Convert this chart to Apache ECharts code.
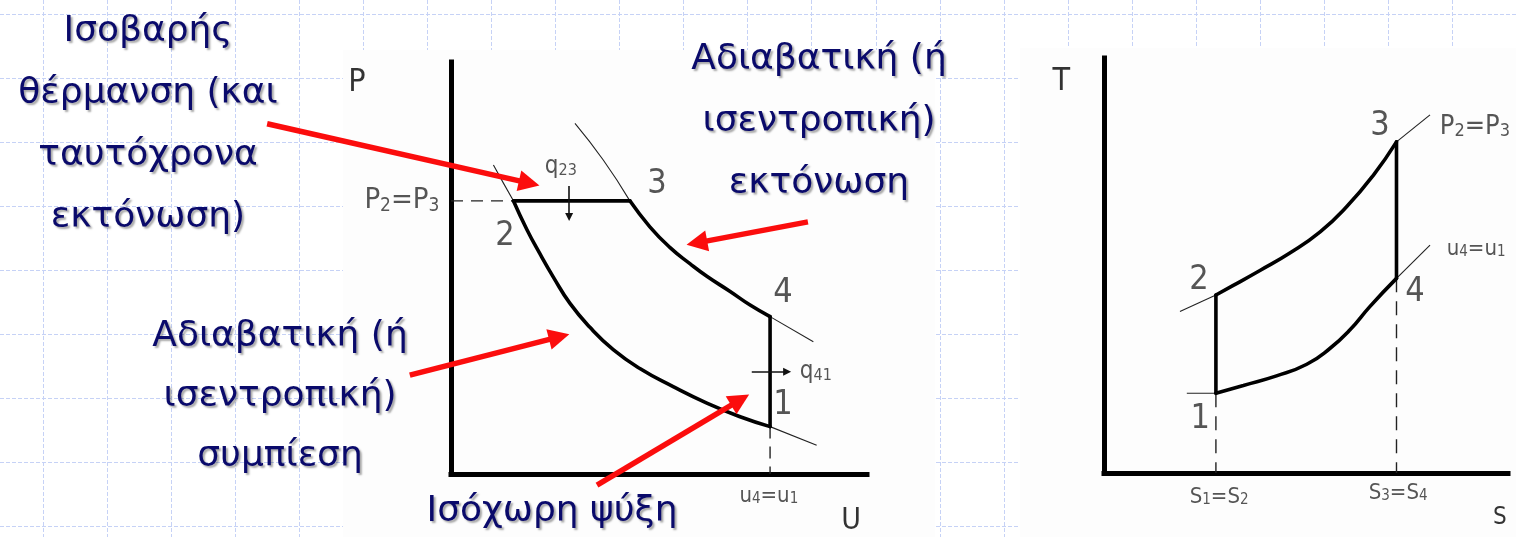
<!DOCTYPE html>
<html>
<head>
<meta charset="utf-8">
<script src="https://cdn.jsdelivr.net/npm/echarts@6/dist/echarts.min.js"></script>
<style>
  html, body { margin: 0; padding: 0; background: #ffffff; }
  #chart { width: 1516px; height: 537px; }
</style>
</head>
<body>
<div id="chart"></div>
<script>
// ---------- P–v diagram (specific volume v, pressure P; axes run 0..10) ----------
// adiabatic compression 2 -> 1
const pvCompression = [[1.50,6.63],[1.82,5.94],[2.14,5.34],[2.46,4.78],[2.86,4.14],[3.34,3.56],
                       [3.90,3.02],[4.54,2.56],[5.34,2.12],[6.15,1.72],[6.95,1.39],[7.67,1.15]];
// adiabatic expansion 3 -> 4
const pvExpansion = [[4.30,6.63],[4.78,6.00],[5.26,5.50],[5.75,5.10],[6.15,4.80],[6.71,4.43],
                     [7.19,4.10],[7.67,3.82]];
// constant pressure 2 -> 3 and constant volume 4 -> 1
const pvIsobar = [[1.50,6.63],[4.30,6.63]];
const pvIsochore = [[7.67,3.82],[7.67,1.15]];
// thin continuations of the two adiabats
const pvAdiabatTails = [
  [[1.02,7.50],[1.26,7.06],[1.50,6.63]],
  [[7.67,1.15],[8.79,0.70]],
  [[2.98,8.51],[3.66,7.62],[4.30,6.63]],
  [[7.67,3.82],[8.71,3.21]]
];
// dashed reference lines P2=P3 and u4=u1
const pvGuides = [
  [[0,6.63],[1.50,6.63]],
  [[7.67,1.15],[7.67,0]]
];
// heat flow arrows q23 (in) and q41 (out)
const pvHeatArrows = [
  [[2.84,6.99],[2.84,6.24]],
  [[7.23,2.48],[8.08,2.48]]
];
// state numbers and axis / level labels: [v, P, text, size]
const pvLabels = [
  [1.30,5.78,'2',34],[4.95,7.04,'3',34],[7.98,4.39,'4',34],[7.98,1.67,'1',34]
];
const pvAxisNames = [[-2.26,9.51,'P',32],[9.62,-1.14,'U',30]];
const pvLevelLabels = [
  [-1.18,6.63,'P{s|2}=P{s|3}',29],
  [7.64,-0.53,'u{s|4}=u{s|1}',22],
  [2.64,7.45,'q{s|23}',24],
  [8.77,2.48,'q{s|41}',24]
];
// red call-out arrows: [tail, head] in P–v units
const calloutArrows = [
  [[-4.42,8.50],[1.88,7.06]],
  [[8.58,6.12],[5.91,5.61]],
  [[-0.99,2.40],[2.60,3.33]],
  [[3.51,-0.27],[6.95,1.80]]
];

// ---------- T–s diagram (entropy s, temperature T; axes run 0..10) ----------
const tsIsobar = [[2.77,4.29],[3.20,4.52],[3.86,4.88],[4.60,5.30],[5.35,5.81],[6.01,6.42],[6.67,7.18],[7.24,7.98]];
const tsIsochore = [[2.77,1.92],[3.45,2.11],[4.27,2.34],[5.02,2.62],[5.59,3.00],[6.09,3.45],[6.58,4.01],[7.24,4.69]];
const tsCompression = [[2.77,1.92],[2.77,4.29]];
const tsExpansion = [[7.24,7.98],[7.24,4.69]];
const tsTails = [
  [[1.88,3.89],[2.77,4.29]],
  [[7.24,7.98],[8.07,8.63]],
  [[2.05,1.92],[2.77,1.92]],
  [[7.24,4.69],[8.07,5.49]]
];
const tsGuides = [
  [[2.77,1.92],[2.77,0]],
  [[7.24,4.69],[7.24,0]]
];
const tsLabels = [
  [2.35,4.65,'2',34],[6.83,8.36,'3',34],[7.70,4.36,'4',34],[2.38,1.30,'1',34]
];
const tsAxisNames = [[-1.06,9.42,'T',32],[9.80,-1.08,'S',24]];
const tsLevelLabels = [
  [9.18,8.34,'P{s|2}=P{s|3}',27],
  [9.21,5.40,'u{s|4}=u{s|1}',22],
  [2.85,-0.58,'S{s|1}=S{s|2}',22],
  [7.28,-0.48,'S{s|3}=S{s|4}',22]
];

// ---------- Greek call-out texts ----------
const notes = [
  { text: 'Ισοβαρής\nθέρμανση (και\nταυτόχρονα\nεκτόνωση)', x: 148, y: 1, lh: 62 },
  { text: 'Αδιαβατική (ή\nισεντροπική)\nεκτόνωση', x: 819, y: 29, lh: 62 },
  { text: 'Αδιαβατική (ή\nισεντροπική)\nσυμπίεση', x: 280, y: 307, lh: 60 },
  { text: 'Ισόχωρη ψύξη', x: 552, y: 481, lh: 62 }
];

const W = 1516, H = 537;
const DIAG_FONT = "'Liberation Sans Narrow', 'DejaVu Sans Condensed', 'Liberation Sans', Arial, sans-serif";

function curve(g, data, width, extra) {
  return Object.assign({
    type: 'line', xAxisIndex: g, yAxisIndex: g, data: data, symbol: 'none',
    smooth: 0.5, silent: true, z: 3,
    lineStyle: { color: '#000', width: width, cap: 'round', join: 'round' }
  }, extra || {});
}
function dashed(g, data, dash) {
  return {
    type: 'line', xAxisIndex: g, yAxisIndex: g, data: data, symbol: 'none', silent: true, z: 2,
    lineStyle: { color: '#222', width: 1.4, type: dash }
  };
}
function labelSeries(g, rows, color) {
  return {
    type: 'scatter', xAxisIndex: g, yAxisIndex: g, symbolSize: 1, clip: false, silent: true, z: 5,
    itemStyle: { color: 'transparent' },
    data: rows.map(r => ({
      value: [r[0], r[1]], name: r[2],
      label: {
        fontSize: r[3],
        rich: { s: { fontSize: Math.round(r[3] * 0.66), fontFamily: DIAG_FONT, color: color, verticalAlign: 'bottom' } }
      }
    })),
    label: { show: true, position: 'inside', formatter: '{b}', color: color, fontFamily: DIAG_FONT }
  };
}
function axisPair(g) {
  return {
    gridIndex: g, type: 'value', min: 0, max: 10,
    axisLine: { show: true, onZero: false, lineStyle: { color: '#000', width: 5, cap: 'square' } },
    axisTick: { show: false }, axisLabel: { show: false }, splitLine: { show: false }
  };
}

// background: light blue dashed squared paper with the two white diagram panels
const background = [];
for (let k = 0; k * 64.04 + 43 <= W + 1; k++) {
  const x = Math.round(43 + k * 64.04) + 0.5;
  background.push({ type: 'line', z: -10, silent: true,
    shape: { x1: x, y1: 0, x2: x, y2: H },
    style: { stroke: '#c6d2f6', lineWidth: 1, lineDash: [4, 2] } });
}
for (let k = 0; 13.5 + k * 64 <= H; k++) {
  const y = Math.round(13.5 + k * 64) + 0.5;
  background.push({ type: 'line', z: -10, silent: true,
    shape: { x1: 0, y1: y, x2: W, y2: y },
    style: { stroke: '#c6d2f6', lineWidth: 1, lineDash: [4, 2] } });
}
background.push({ type: 'rect', z: -5, silent: true, shape: { x: 343, y: 50, width: 592, height: H - 50 }, style: { fill: '#fdfdfd' } });
background.push({ type: 'rect', z: -5, silent: true, shape: { x: 1020, y: 48, width: W - 1020, height: H - 48 }, style: { fill: '#fdfdfd' } });

const noteText = notes.map(n => ({
  type: 'text', z: 100, silent: true,
  style: {
    text: n.text, x: n.x, y: n.y, align: 'center', verticalAlign: 'top',
    lineHeight: n.lh, font: "36px 'DejaVu Sans', Verdana, sans-serif", fill: '#0a0a6b',
    textShadowColor: 'rgba(0,0,0,0.35)', textShadowBlur: 2, textShadowOffsetX: 2, textShadowOffsetY: 2
  }
}));

const series = [];
// P–v
pvAdiabatTails.forEach(t => series.push(curve(0, t, 1.1, { lineStyle: { color: '#222', width: 1.1 }, z: 2 })));
pvGuides.forEach(t => series.push(dashed(0, t, [12, 8])));
series.push(curve(0, pvCompression, 3.6));
series.push(curve(0, pvExpansion, 3.6));
series.push(curve(0, pvIsobar, 3.6, { smooth: false }));
series.push(curve(0, pvIsochore, 3.6, { smooth: false }));
series.push({
  type: 'lines', coordinateSystem: 'cartesian2d', xAxisIndex: 0, yAxisIndex: 0, clip: false, silent: true, z: 4,
  data: pvHeatArrows.map(a => ({ coords: a })),
  symbol: ['none', 'triangle'], symbolSize: 8,
  lineStyle: { color: '#111', width: 1.6, opacity: 1 }
});
series.push(labelSeries(0, pvLabels, '#2a2a2a'));
series.push(labelSeries(0, pvAxisNames, '#000'));
series.push(labelSeries(0, pvLevelLabels, '#2a2a2a'));
series.push({
  type: 'lines', coordinateSystem: 'cartesian2d', xAxisIndex: 0, yAxisIndex: 0, clip: false, silent: true, z: 50,
  data: calloutArrows.map(a => ({ coords: a })),
  symbol: ['none', 'triangle'], symbolSize: 21,
  lineStyle: { color: '#fb0d0d', width: 5.5, opacity: 1 }
});
// T–s
tsTails.forEach(t => series.push(curve(1, t, 1.1, { lineStyle: { color: '#222', width: 1.1 }, z: 2 })));
tsGuides.forEach(t => series.push(dashed(1, t, [14, 9])));
series.push(curve(1, tsIsobar, 3.6));
series.push(curve(1, tsIsochore, 3.6));
series.push(curve(1, tsCompression, 3.6, { smooth: false }));
series.push(curve(1, tsExpansion, 3.6, { smooth: false }));
series.push(labelSeries(1, tsLabels, '#2a2a2a'));
series.push(labelSeries(1, tsAxisNames, '#000'));
series.push(labelSeries(1, tsLevelLabels, '#2a2a2a'));

const chart = echarts.init(document.getElementById('chart'), null, { renderer: 'canvas' });
chart.setOption({
  animation: false,
  backgroundColor: '#ffffff',
  grid: [
    { left: 451, top: 62, width: 416, height: 412 },
    { left: 1104, top: 58, width: 404, height: 415 }
  ],
  xAxis: [axisPair(0), axisPair(1)],
  yAxis: [axisPair(0), axisPair(1)],
  graphic: { elements: background.concat(noteText) },
  series: series
});
</script>
</body>
</html>
